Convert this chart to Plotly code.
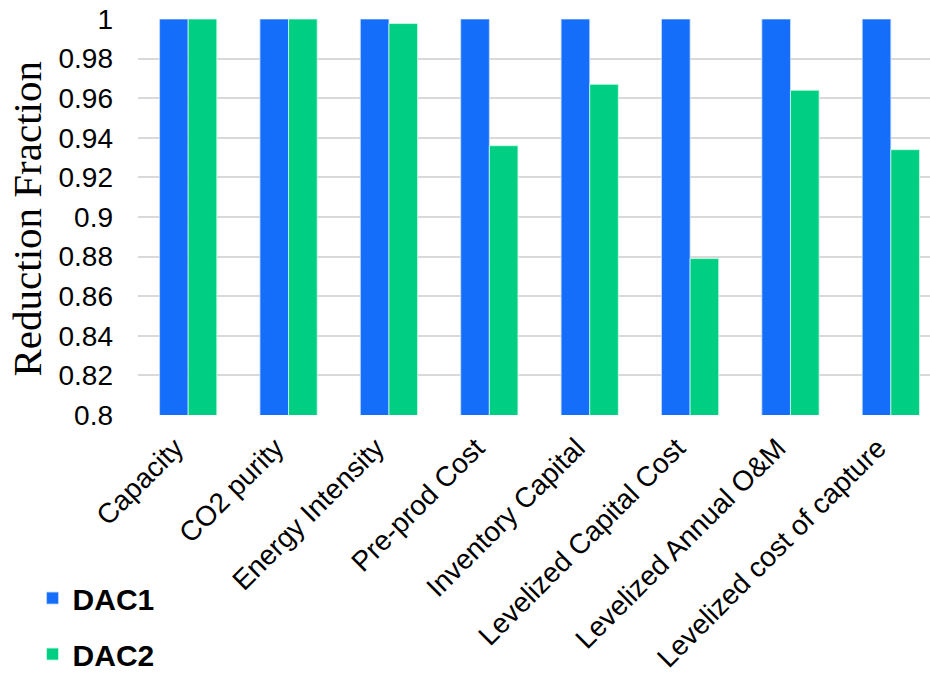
import plotly.graph_objects as go

categories = ["Capacity", "CO2 purity", "Energy Intensity", "Pre-prod Cost",
              "Inventory Capital", "Levelized Capital Cost", "Levelized Annual O&M",
              "Levelized cost of capture"]
dac1 = [1, 1, 1, 1, 1, 1, 1, 1]
dac2 = [1, 1, 0.9977, 0.936, 0.967, 0.879, 0.964, 0.934]
y_ticks = [0.8, 0.82, 0.84, 0.86, 0.88, 0.9, 0.92, 0.94, 0.96, 0.98, 1]
y_tick_text = ["0.8", "0.82", "0.84", "0.86", "0.88", "0.9", "0.92", "0.94", "0.96", "0.98", "1"]
y_title = "Reduction Fraction"

BLUE = "#156EFA"
GREEN = "#00CE83"
SANS = "Liberation Sans, Arial, sans-serif"

fig = go.Figure()
fig.add_trace(go.Bar(name="DAC1", x=categories, y=dac1, marker=dict(color=BLUE, line=dict(color="rgba(200,220,255,0.8)", width=1)),
                     legendgroup="a"))
fig.add_trace(go.Bar(name="DAC2", x=categories, y=dac2, marker=dict(color=GREEN, line=dict(color="rgba(200,255,230,0.8)", width=1)),
                     legendgroup="b"))

fig.update_layout(
    width=930, height=677,
    margin=dict(l=138, r=0, t=19, b=262, autoexpand=False),
    paper_bgcolor="white", plot_bgcolor="white",
    barmode="group", bargap=0.43, bargroupgap=0,
    font=dict(family=SANS, color="black", size=28),
    legend=dict(xref="container", yref="container", x=0.035, y=0.155, xanchor="left", yanchor="top",
                font=dict(family=SANS, size=30, color="black", weight="bold"),
                tracegroupgap=14, bgcolor="rgba(0,0,0,0)"),
    showlegend=True,
    annotations=[dict(text=y_title, textangle=-90, xref="paper", yref="paper",
                      x=-0.14, y=0.494, xanchor="center", yanchor="middle", showarrow=False,
                      font=dict(family="Liberation Serif, Times New Roman, serif", size=41, color="black"))],
)
fig.update_xaxes(range=[-0.5, 7.39], tickangle=-45, showgrid=False, showline=False, automargin=False,
                 ticklabelshift=-13, ticklabelstandoff=10,
                 tickfont=dict(family=SANS, size=28, color="black"), ticks="")
fig.update_yaxes(range=[0.8, 1.0], tickvals=y_ticks, ticktext=y_tick_text, automargin=False,
                 showgrid=True, gridcolor="#D9D9D9", gridwidth=1.5,
                 zeroline=False, showline=False, ticks="", ticklabelstandoff=24,
                 tickfont=dict(family=SANS, size=28, color="black"))

fig.write_html("out.html")
